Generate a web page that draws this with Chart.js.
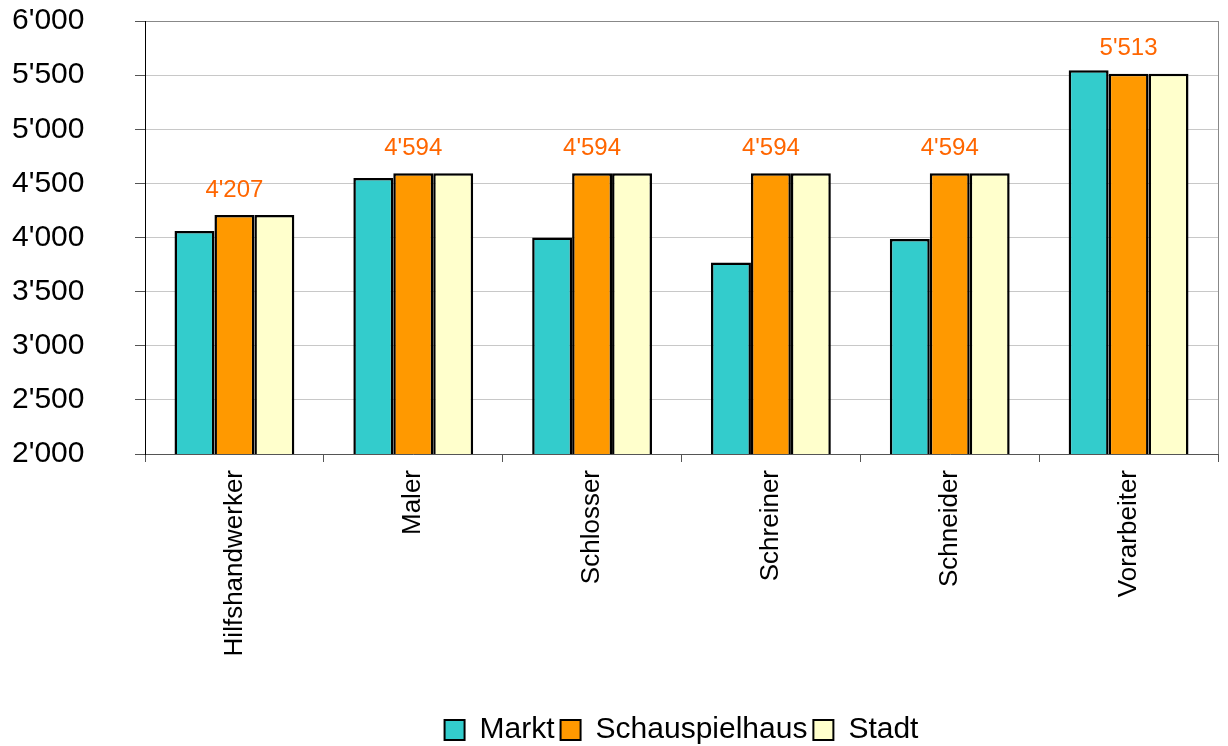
<!DOCTYPE html>
<html lang="de">
<head>
  <meta charset="UTF-8" />
  <title>Löhne nach Beruf</title>
  <script src="https://cdn.jsdelivr.net/npm/chart.js"></script>
  <style>
    html, body { margin: 0; padding: 0; background: #fff; }
    #wrap { width: 1228px; height: 746px; }
  </style>
</head>
<body>
  <div id="wrap"><canvas id="chart" width="1228" height="746"></canvas></div>

  <script>
    const categories = ['Hilfshandwerker', 'Maler', 'Schlosser', 'Schreiner', 'Schneider', 'Vorarbeiter'];
    const markt = [4060, 4550, 4000, 3770, 3985, 5545];
    const schauspielhaus = [4207, 4594, 4594, 4594, 4594, 5513];
    const stadt = [4207, 4594, 4594, 4594, 4594, 5513];

    // Swiss style thousands separator: 4'594
    function fmt(v) {
      return String(Math.round(v)).replace(/\B(?=(\d{3})+(?!\d))/g, "'");
    }

    // value labels above the Schauspielhaus bars
    const valueLabels = {
      id: 'valueLabels',
      afterDatasetsDraw(chart) {
        const ctx = chart.ctx;
        const meta = chart.getDatasetMeta(1);
        ctx.save();
        ctx.fillStyle = '#ff6600';
        ctx.font = '24px "Liberation Sans", Arial, sans-serif';
        ctx.textAlign = 'center';
        ctx.textBaseline = 'middle';
        meta.data.forEach((bar, i) => {
          ctx.fillText(fmt(schauspielhaus[i]), bar.x, bar.y - 25);
        });
        ctx.restore();
      }
    };

    // gray frame on the right of the plot area, legend centred under the plot
    const frameAndLegend = {
      id: 'frameAndLegend',
      afterLayout(chart) {
        const a = chart.chartArea;
        const lg = chart.legend;
        const dx = (a.left + a.right) / 2 - (lg.left + lg.right) / 2;
        lg.left += dx;
        lg.right += dx;
        lg.top += 9;
        lg.bottom += 9;
      },
      afterDraw(chart) {
        const a = chart.chartArea;
        const ctx = chart.ctx;
        ctx.save();
        ctx.strokeStyle = '#888';
        ctx.lineWidth = 1;
        ctx.beginPath();
        ctx.moveTo(a.right + 0.5, a.top);
        ctx.lineTo(a.right + 0.5, a.bottom);
        ctx.stroke();
        ctx.restore();
      }
    };

    Chart.defaults.font.family = '"Liberation Sans", Arial, sans-serif';
    Chart.defaults.color = '#000';

    new Chart(document.getElementById('chart'), {
      type: 'bar',
      data: {
        labels: categories,
        datasets: [
          { label: 'Markt', data: markt, backgroundColor: '#33cccc' },
          { label: 'Schauspielhaus', data: schauspielhaus, backgroundColor: '#ff9900' },
          { label: 'Stadt', data: stadt, backgroundColor: '#ffffcc' }
        ]
      },
      options: {
        responsive: false,
        animation: false,
        datasets: {
          bar: {
            borderColor: '#000',
            borderWidth: 2.5,
            borderSkipped: false,
            categoryPercentage: 0.67,
            barPercentage: 1.0
          }
        },
        layout: { padding: { top: 21, right: 10, left: 12, bottom: 0 } },
        plugins: {
          legend: {
            position: 'bottom',
            labels: {
              font: { size: 30 },
              color: '#000',
              boxWidth: 20,
              boxHeight: 20,
              padding: 6,
              generateLabels(chart) {
                return chart.data.datasets.map((d, i) => ({
                  text: d.label,
                  fillStyle: d.backgroundColor,
                  strokeStyle: '#000',
                  lineWidth: 2,
                  datasetIndex: i,
                  hidden: false
                }));
              }
            }
          },
          tooltip: { enabled: false }
        },
        scales: {
          x: {
            grid: {
              drawOnChartArea: false,
              color: '#555',
              tickLength: 8,
              offset: true
            },
            border: { color: '#555', width: 1 },
            ticks: {
              font: { size: 26 },
              color: '#000',
              minRotation: 90,
              maxRotation: 90,
              padding: 8
            },
            afterFit(scale) { scale.height = 246; }
          },
          y: {
            min: 2000,
            max: 6000,
            grid: {
              color: ctx => (ctx.tick && ctx.tick.value === 6000) ? '#888' : '#c8c8c8',
              tickColor: '#555',
              tickLength: 10
            },
            border: { color: '#000', width: 1 },
            ticks: {
              stepSize: 500,
              font: { size: 30 },
              color: '#000',
              padding: 3,
              crossAlign: 'far',
              callback: v => fmt(v)
            },
            afterFit(scale) { scale.width = 133; }
          }
        }
      },
      plugins: [valueLabels, frameAndLegend]
    });
  </script>
</body>
</html>
